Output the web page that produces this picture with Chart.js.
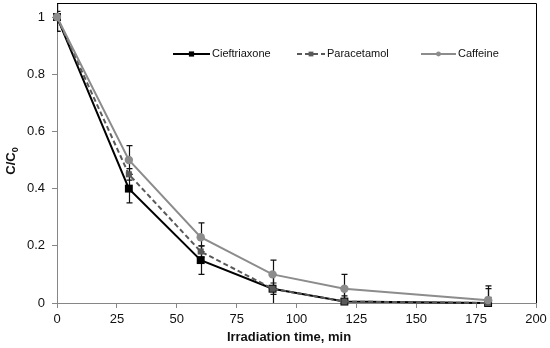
<!DOCTYPE html>
<html>
<head>
<meta charset="utf-8">
<script src="https://cdn.jsdelivr.net/npm/chart.js@4/dist/chart.umd.min.js"></script>
<style>
html,body{margin:0;padding:0;background:#fff;}
#wrap{width:550px;height:348px;position:relative;}
</style>
</head>
<body>
<div id="wrap"><canvas id="c" width="550" height="348"></canvas></div>
<script>
const times = [0, 30, 60, 90, 120, 180];
const seriesNames = ['Cieftriaxone', 'Paracetamol', 'Caffeine'];
const ceftriaxone = [1, 0.40, 0.15, 0.05, 0.005, 0.0];
const paracetamol = [1, 0.45, 0.18, 0.05, 0.005, 0.0];
const caffeine = [1, 0.50, 0.23, 0.10, 0.05, 0.01];
const ceftriaxoneErr = [0.05, 0.05, 0.05, 0.05, 0.05, 0.05];
const paracetamolErr = [0.02, 0.02, 0.02, 0.02, 0.02, 0.02];
const caffeineErr = [0.05, 0.05, 0.05, 0.05, 0.05, 0.05];
const xTicks = [0, 25, 50, 75, 100, 125, 150, 175, 200];
const yTicks = [0, 0.2, 0.4, 0.6, 0.8, 1];
const xTitle = 'Irradiation time, min';

const FONT = '"Liberation Sans", Arial, sans-serif';

function pts(vals){ return times.map((t,i)=>({x:t, y:vals[i]})); }

const errSets = [ceftriaxoneErr, paracetamolErr, caffeineErr];

const errorBars = {
  id:'errorBars',
  beforeDatasetsDraw(chart){
    const ctx = chart.ctx, xs = chart.scales.x, ys = chart.scales.y, a = chart.chartArea;
    ctx.save();
    ctx.beginPath(); ctx.rect(a.left, a.top, a.right-a.left, a.bottom-a.top+1); ctx.clip();
    ctx.strokeStyle = '#111'; ctx.lineWidth = 1.2;
    chart.data.datasets.forEach((ds, di) => {
      const err = errSets[di];
      ds.data.forEach((p, i) => {
        const x = Math.round(xs.getPixelForValue(p.x)) + 0.5;
        const yHi = ys.getPixelForValue(p.y + err[i]);
        const yLo = ys.getPixelForValue(Math.max(0, p.y - err[i]));
        ctx.beginPath();
        ctx.moveTo(x, yHi); ctx.lineTo(x, yLo);
        ctx.moveTo(x-3, yHi); ctx.lineTo(x+3, yHi);
        if (p.y - err[i] > 0) { ctx.moveTo(x-3, yLo); ctx.lineTo(x+3, yLo); }
        ctx.stroke();
      });
    });
    ctx.restore();
  }
};

const frameAndText = {
  id:'frameAndText',
  afterDraw(chart){
    const ctx = chart.ctx, a = chart.chartArea;
    ctx.save();
    ctx.strokeStyle = '#000'; ctx.lineWidth = 1;
    ctx.beginPath();
    ctx.moveTo(a.left, a.top + 0.5); ctx.lineTo(a.right + 0.5, a.top + 0.5);
    ctx.lineTo(a.right + 0.5, a.bottom);
    ctx.stroke();
    const ly = 54;
    const items = [
      {x:173, w:37, color:'#000', dash:[], shape:'rect', r:2.6, text:seriesNames[0]},
      {x:297, w:28, color:'#595959', dash:[5,3], shape:'rect', r:2.4, text:seriesNames[1]},
      {x:421, w:35, color:'#8c8c8c', dash:[], shape:'circle', r:2.4, text:seriesNames[2]}
    ];
    ctx.font = '11px ' + FONT;
    ctx.textBaseline = 'middle';
    items.forEach(it => {
      ctx.strokeStyle = it.color; ctx.lineWidth = 2; ctx.setLineDash(it.dash);
      ctx.beginPath(); ctx.moveTo(it.x, ly); ctx.lineTo(it.x + it.w, ly); ctx.stroke();
      ctx.setLineDash([]);
      ctx.fillStyle = it.color;
      const cx = it.x + it.w/2;
      ctx.beginPath();
      if (it.shape === 'rect') ctx.rect(cx - it.r, ly - it.r, it.r*2, it.r*2);
      else ctx.arc(cx, ly, it.r, 0, Math.PI*2);
      ctx.fill();
      ctx.fillStyle = '#111';
      ctx.textAlign = 'left';
      ctx.fillText(it.text, it.x + it.w + 2, ly);
    });
    ctx.font = 'bold 13px ' + FONT;
    ctx.fillStyle = '#111';
    ctx.textAlign = 'center';
    ctx.textBaseline = 'middle';
    ctx.fillText(xTitle, 289, 337);
    ctx.translate(15, 161);
    ctx.rotate(-Math.PI/2);
    ctx.textBaseline = 'alphabetic';
    ctx.textAlign = 'left';
    const main = 'C/C', sub = '0';
    ctx.font = 'bold 13px ' + FONT;
    const wMain = ctx.measureText(main).width;
    ctx.font = 'bold 9px ' + FONT;
    const wSub = ctx.measureText(sub).width;
    const start = -(wMain + wSub)/2;
    ctx.font = 'bold 13px ' + FONT;
    ctx.fillText(main, start, 0);
    ctx.font = 'bold 9px ' + FONT;
    ctx.fillText(sub, start + wMain, 3);
    ctx.restore();
  }
};

new Chart(document.getElementById('c'), {
  type:'line',
  data:{
    datasets:[
      {label:seriesNames[0], data:pts(ceftriaxone), borderColor:'#000', backgroundColor:'#000',
       borderWidth:2, pointStyle:'rect', pointRadius:5.6, pointBorderWidth:0, clip:false, order:3},
      {label:seriesNames[1], data:pts(paracetamol), borderColor:'#595959', backgroundColor:'#595959',
       borderWidth:2, borderDash:[5,3], pointStyle:'rect', pointRadius:4.3, pointBorderWidth:0, clip:false, order:2},
      {label:seriesNames[2], data:pts(caffeine), borderColor:'#8c8c8c', backgroundColor:'#8c8c8c',
       borderWidth:2, pointStyle:'circle', pointRadius:4.2, pointBorderWidth:0, clip:false, order:1}
    ]
  },
  options:{
    responsive:false,
    animation:false,
    events:[],
    layout:{autoPadding:false, padding:{top:3, right:14, left:0, bottom:0}},
    plugins:{legend:{display:false}, tooltip:{enabled:false}},
    scales:{
      x:{
        type:'linear', min:0, max:200,
        afterBuildTicks(s){ s.ticks = xTicks.map(v=>({value:v})); },
        afterFit(s){ s.height = 45; s.paddingLeft = 0; s.paddingRight = 0; },
        border:{color:'#868686', width:1},
        grid:{drawOnChartArea:false, tickLength:5, color:'#868686', tickColor:'#868686'},
        ticks:{color:'#111', font:{family:FONT, size:13}, padding:4, maxRotation:0}
      },
      y:{
        type:'linear', min:0, max:1.049,
        afterBuildTicks(s){ s.ticks = yTicks.map(v=>({value:v})); },
        afterFit(s){ s.width = 57; s.paddingTop = 0; s.paddingBottom = 0; },
        border:{color:'#868686', width:1},
        grid:{drawOnChartArea:false, tickLength:5, color:'#868686', tickColor:'#868686'},
        ticks:{color:'#111', font:{family:FONT, size:13}, padding:7,
               callback:(v)=>String(Math.round(v*10)/10)}
      }
    }
  },
  plugins:[errorBars, frameAndText]
});
</script>
</body>
</html>
